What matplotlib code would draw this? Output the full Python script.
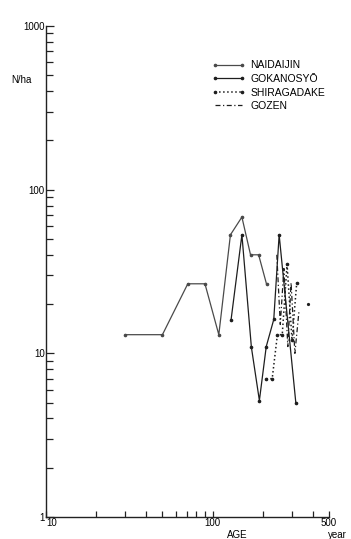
import matplotlib
matplotlib.use("Agg")
import matplotlib.pyplot as plt
from matplotlib.ticker import FixedLocator, NullFormatter, FixedFormatter

plt.rcParams["font.family"] = ["Liberation Sans", "DejaVu Sans"]

# stand density (N/ha) by age class
naidaijin_age = [30, 50, 71, 90, 109, 128, 150, 169, 189, 211]
naidaijin_n = [13, 13, 26.6, 26.6, 13, 53, 68, 40, 40, 26.4]

gokanosyo_age = [129, 150, 171, 191, 210, 233, 251, 316]
gokanosyo_n = [15.9, 53, 10.9, 5.15, 11, 16.1, 53, 5.0]

shiragadake_age = [210, 228, 245, 262, 280, 300, 320]
shiragadake_n = [7, 7, 13, 13, 35, 12, 27]

gozen_age = [243, 255, 268, 283, 296, 312, 330]
gozen_n = [40, 15, 33, 11, 27, 10, 18]
gozen_extra_age = [372]
gozen_extra_n = [20]

x_major = [10, 100, 500]
x_minor = [20, 30, 40, 50, 60, 70, 80, 90, 200, 300, 400]
y_major = [1, 10, 100, 1000]
y_minor = [m * 10 ** e for e in range(3) for m in range(2, 10)]

fig = plt.figure(figsize=(3.51, 5.39), dpi=100)
ax = fig.add_axes([46 / 351, 1 - 517 / 539, (329 - 46) / 351, (517 - 26) / 539])

lw = 0.9
ms = 1.6
ax.plot(naidaijin_age, naidaijin_n, "-", color="#4a4a4a", lw=lw,
        marker="o", ms=ms, label="NAIDAIJIN")
ax.plot(gokanosyo_age, gokanosyo_n, "-", color="#1e1e1e", lw=lw,
        marker="o", ms=ms, label="GOKANOSYŌ")
ax.plot(shiragadake_age, shiragadake_n, ":", color="#1e1e1e", lw=1.1,
        marker="o", ms=ms, label="SHIRAGADAKE")
ax.plot(gozen_age, gozen_n, "--", color="#1e1e1e", lw=lw,
        dashes=(4, 2, 1, 2), label="GOZEN")
ax.plot(gozen_extra_age, gozen_extra_n, "o", color="#1e1e1e", ms=1.3)

ax.set_xscale("log")
ax.set_yscale("log")
ax.set_xlim(10, 500)
ax.set_ylim(1, 1000)

ax.xaxis.set_major_locator(FixedLocator(x_major))
ax.xaxis.set_major_formatter(FixedFormatter([str(v) for v in x_major]))
ax.xaxis.set_minor_locator(FixedLocator(x_minor))
ax.xaxis.set_minor_formatter(NullFormatter())
ax.yaxis.set_major_locator(FixedLocator(y_major))
ax.yaxis.set_major_formatter(FixedFormatter([str(v) for v in y_major]))
ax.yaxis.set_minor_locator(FixedLocator(y_minor))
ax.yaxis.set_minor_formatter(NullFormatter())

ax.tick_params(which="both", direction="in", color="#222222", width=0.9)
ax.tick_params(axis="y", which="major", length=6, pad=1, labelsize=7)
ax.tick_params(axis="y", which="minor", length=5)
ax.tick_params(axis="x", which="major", length=4, pad=1, labelsize=7)
ax.tick_params(axis="x", which="minor", length=4)
ax.get_xticklabels()[0].set_ha("left")

for s in ["top", "right"]:
    ax.spines[s].set_visible(False)
for s in ["left", "bottom"]:
    ax.spines[s].set_linewidth(1.0)
    ax.spines[s].set_color("#222222")

fig.text(21 / 351, 1 - 80 / 539, "N/ha", fontsize=7, ha="center", va="center")
fig.text(237 / 351, 1 - 535 / 539, "AGE", fontsize=7, ha="center", va="center")
fig.text(337 / 351, 1 - 535 / 539, "year", fontsize=7, ha="center", va="center")

ax.legend(loc="upper left", bbox_to_anchor=(207 / 351, 1 - 55 / 539),
          bbox_transform=fig.transFigure, frameon=False, fontsize=7.5,
          numpoints=2, handlelength=3.2, handletextpad=0.45, labelspacing=0.35,
          borderpad=0)

fig.savefig("out.png", dpi=100)
